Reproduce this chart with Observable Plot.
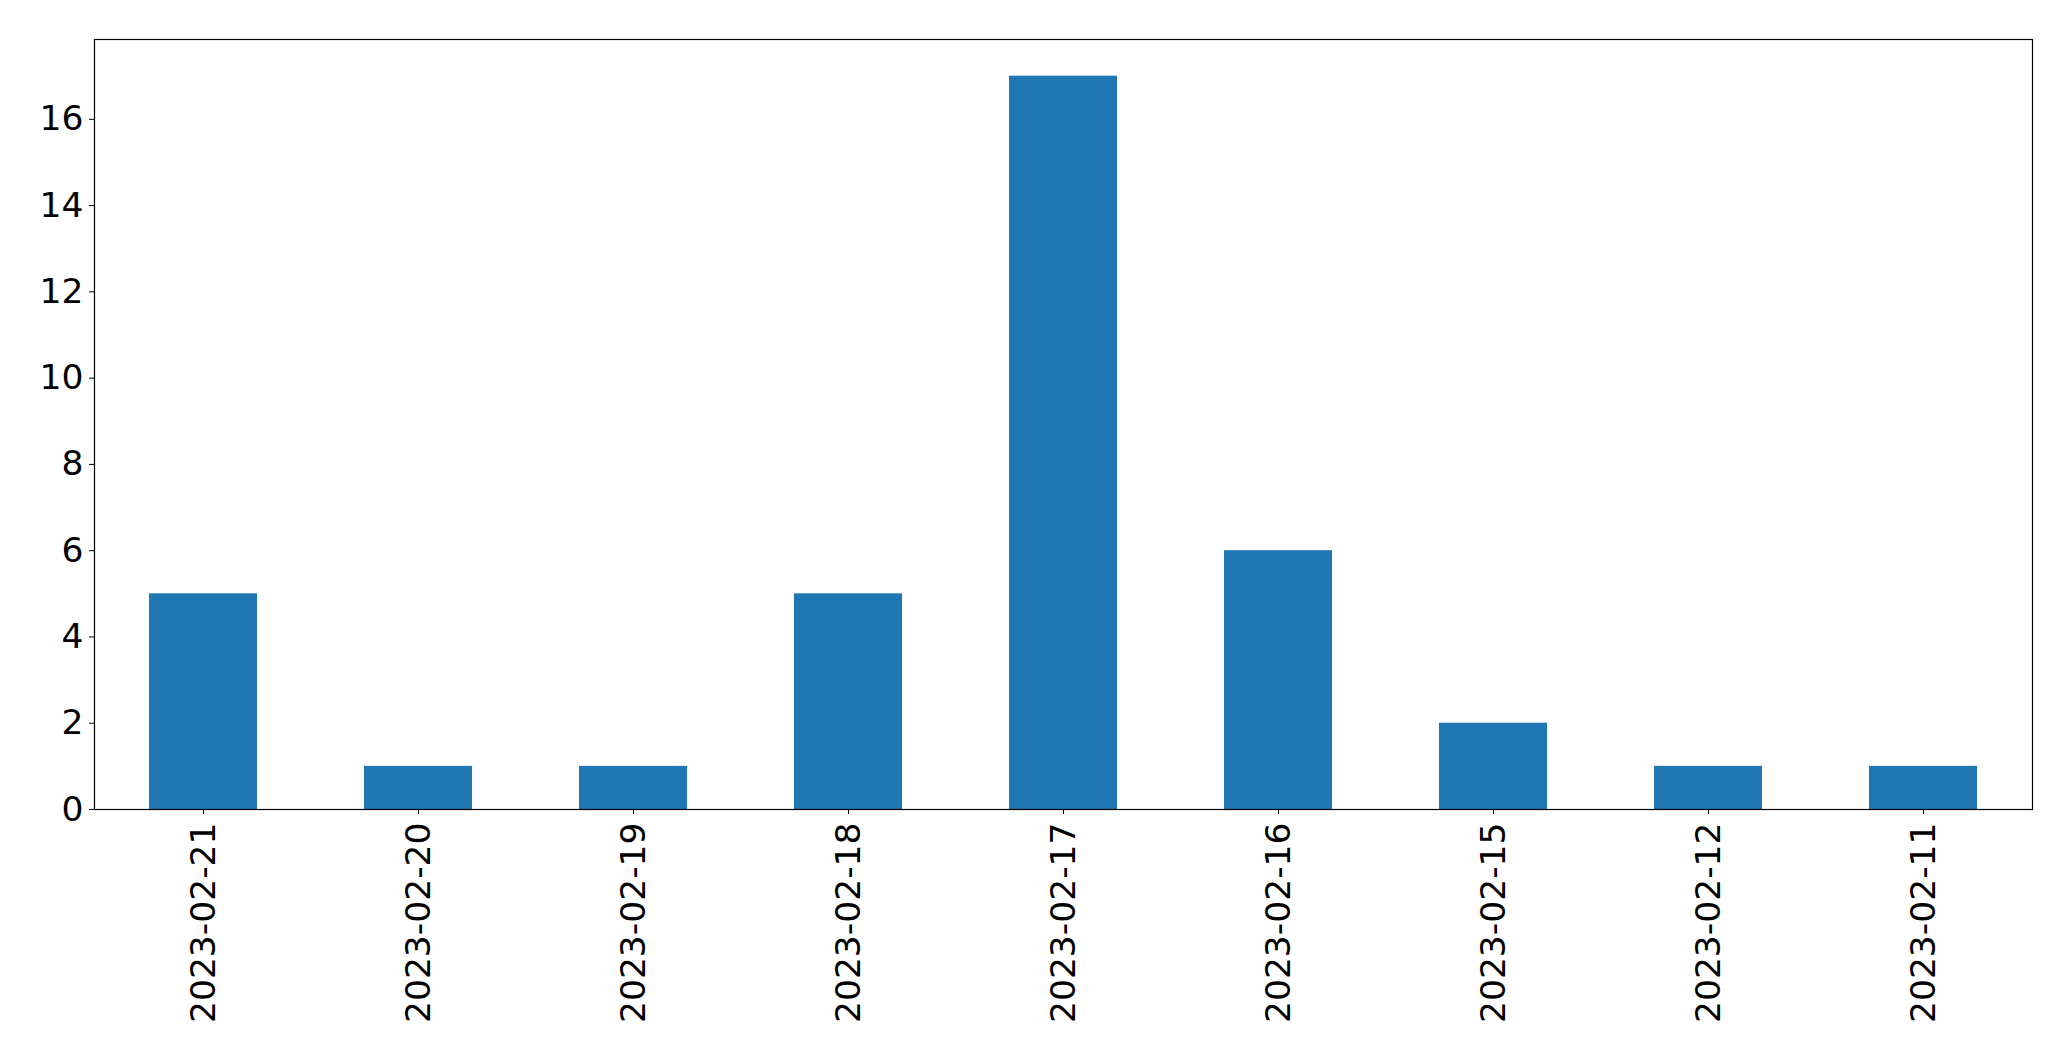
<!DOCTYPE html>
<html>
<head>
<meta charset="utf-8">
<script src="https://cdn.jsdelivr.net/npm/d3@7"></script>
<script src="https://cdn.jsdelivr.net/npm/@observablehq/plot@0.6"></script>
<style>
  html, body { margin: 0; padding: 0; background: white; }
</style>
</head>
<body>
<div id="chart"></div>
<script>
const dates = ["2023-02-21", "2023-02-20", "2023-02-19", "2023-02-18", "2023-02-17", "2023-02-16", "2023-02-15", "2023-02-12", "2023-02-11"];
const counts = [5, 1, 1, 5, 17, 6, 2, 1, 1];
const yTicks = [0, 2, 4, 6, 8, 10, 12, 14, 16];

const data = dates.map((d, i) => ({date: d, count: counts[i]}));

const chart = Plot.plot({
  width: 2071,
  height: 1061,
  marginLeft: 94,
  marginRight: 39,
  marginTop: 39,
  marginBottom: 252,
  x: {type: "band", domain: dates, paddingInner: 0.5, paddingOuter: 0.25},
  y: {domain: [0, 17.85]},
  style: {fontFamily: "DejaVu Sans", background: "white", color: "black"},
  marks: [
    Plot.barY(data, {x: "date", y: "count", fill: "#1f77b4", insetLeft: 0, insetRight: 0}),
    Plot.frame({stroke: "black", strokeWidth: 1.2}),
    Plot.axisY({ticks: yTicks, tickSize: 5, tickPadding: 6, fontSize: 34.5, label: null, tickFormat: d => String(d)}),
    Plot.axisX({tickRotate: -90, tickSize: 5, tickPadding: 8, fontSize: 34.5, label: null})
  ]
});
document.getElementById("chart").appendChild(chart);
</script>
</body>
</html>
